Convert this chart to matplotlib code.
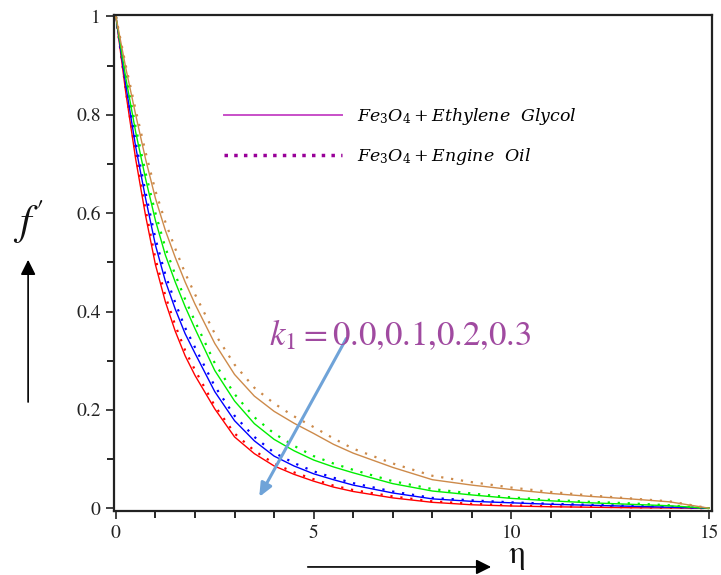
import numpy as np
import matplotlib
matplotlib.use('Agg')
import matplotlib.pyplot as plt
from matplotlib.lines import Line2D

plt.rcParams['mathtext.fontset'] = 'stix'
plt.rcParams['font.family'] = 'STIXGeneral'

# eta grid
eta = [0, 0.25, 0.5, 0.75, 1, 1.25, 1.5, 1.75, 2, 2.5, 3, 3.5, 4, 4.5, 5, 5.5, 6,
       7, 8, 9, 10, 11, 12, 13, 14, 15]

# Fe3O4 + Ethylene Glycol (solid), k1 = 0.0, 0.1, 0.2, 0.3
eg_k0 = [1, .845, .71, .595, .495, .42, .36, .31, .27, .202, .145, .111, .086, .069, .055,
         .043, .034, .021, .012, .007, .0045, .003, .002, .001, .0005, 0]
eg_k1 = [1, .86, .735, .63, .535, .462, .405, .355, .315, .237, .178, .137, .106, .086, .070,
         .058, .047, .031, .019, .014, .011, .008, .006, .004, .002, 0]
eg_k2 = [1, .875, .765, .67, .585, .515, .46, .41, .365, .28, .218, .172, .140, .117, .098,
         .084, .072, .050, .035, .027, .020, .015, .011, .008, .005, 0]
eg_k3 = [1, .895, .80, .71, .63, .565, .51, .46, .415, .335, .272, .228, .197, .173, .152,
         .130, .112, .083, .058, .047, .038, .030, .024, .019, .013, 0]

# Fe3O4 + Engine Oil (dotted)
eo_k0 = [1, .85, .72, .607, .507, .432, .372, .321, .281, .208, .152, .117, .091, .073, .059,
         .046, .037, .024, .014, .009, .006, .004, .003, .002, .001, 0]
eo_k1 = [1, .865, .745, .642, .548, .475, .418, .367, .327, .248, .188, .145, .113, .092, .075,
         .062, .051, .034, .021, .016, .012, .009, .007, .005, .003, 0]
eo_k2 = [1, .88, .775, .682, .60, .53, .475, .425, .38, .295, .232, .185, .152, .127, .106,
         .091, .078, .055, .039, .030, .022, .017, .013, .010, .006, 0]
eo_k3 = [1, .90, .81, .724, .645, .582, .528, .478, .435, .355, .292, .245, .213, .187, .165,
         .142, .121, .091, .066, .053, .042, .033, .026, .020, .014, 0]

colors = ['#ff0000', '#0000ff', '#00ee00', '#cd8a4a']
eg = [eg_k0, eg_k1, eg_k2, eg_k3]
eo = [eo_k0, eo_k1, eo_k2, eo_k3]

fig = plt.figure(figsize=(7.21, 5.75), dpi=100)
ax = fig.add_axes([0.158, 0.111, 0.830, 0.863])

for c, y1, y2 in zip(colors, eg, eo):
    ax.plot(eta, y1, color=c, lw=1.0)
    ax.plot(eta, y2, color=c, lw=1.6, linestyle=(0, (1, 3.5)))

ax.set_xlim(-0.05, 15.08)
ax.set_ylim(-0.006, 1.003)
ax.set_xticks([0, 5, 10, 15])
ax.set_xticks(np.arange(0, 16, 1), minor=True)
ax.set_yticks([0, 0.2, 0.4, 0.6, 0.8, 1])
ax.set_yticklabels(['0', '0.2', '0.4', '0.6', '0.8', '1'])
ax.set_yticks(np.arange(0, 1.01, 0.1), minor=True)
ax.tick_params(which='major', length=6, width=1.2, labelsize=14, colors='#222222')
ax.tick_params(which='minor', length=5, width=1.2)
for s in ax.spines.values():
    s.set_linewidth(1.6)
    s.set_color('#222222')

# legend
h1 = Line2D([], [], color='#c84fc8', lw=1.4)
h2 = Line2D([], [], color='#990099', lw=2.5, linestyle=(0, (1, 1.8)))
plt.rcParams['mathtext.fontset'] = 'dejavuserif'
leg = fig.legend([h1, h2],
                 [r'$Fe_3O_4 + Ethylene\ \ Glycol$', r'$Fe_3O_4 + Engine\ \ Oil$'],
                 loc='upper left', bbox_to_anchor=(0.298, 0.830), frameon=False,
                 fontsize=12.5, handlelength=6.8, handletextpad=0.9,
                 labelspacing=1.05, borderpad=0)

plt.rcParams['mathtext.fontset'] = 'stix'
ax.annotate('', xy=(3.59, 0.018), xytext=(5.86, 0.35),
            arrowprops=dict(arrowstyle='-|>,head_length=0.8,head_width=0.35',
                            color='#6fa3d8', lw=2.2))
ax.text(3.86, 0.35, r'$k_1 = $0.0,0.1,0.2,0.3', color='#a04aa0', fontsize=25,
        va='center', ha='left')

# axis labels with arrows
fig.text(0.040, 0.614, r"$f'$", fontsize=30, ha='center', va='center', color='#111111')
fig.add_artist(matplotlib.patches.FancyArrowPatch(
    (0.039, 0.296), (0.039, 0.553), transform=fig.transFigure,
    arrowstyle='-|>,head_length=6,head_width=3', mutation_scale=1.5, color='black', lw=1.2))
fig.add_artist(matplotlib.patches.FancyArrowPatch(
    (0.423, 0.014), (0.685, 0.014), transform=fig.transFigure,
    arrowstyle='-|>,head_length=6,head_width=3', mutation_scale=1.5, color='black', lw=1.2))
fig.text(0.717, 0.034, 'η', fontsize=24, ha='center', va='center', color='#111111')

plt.savefig('out.png', dpi=100)
